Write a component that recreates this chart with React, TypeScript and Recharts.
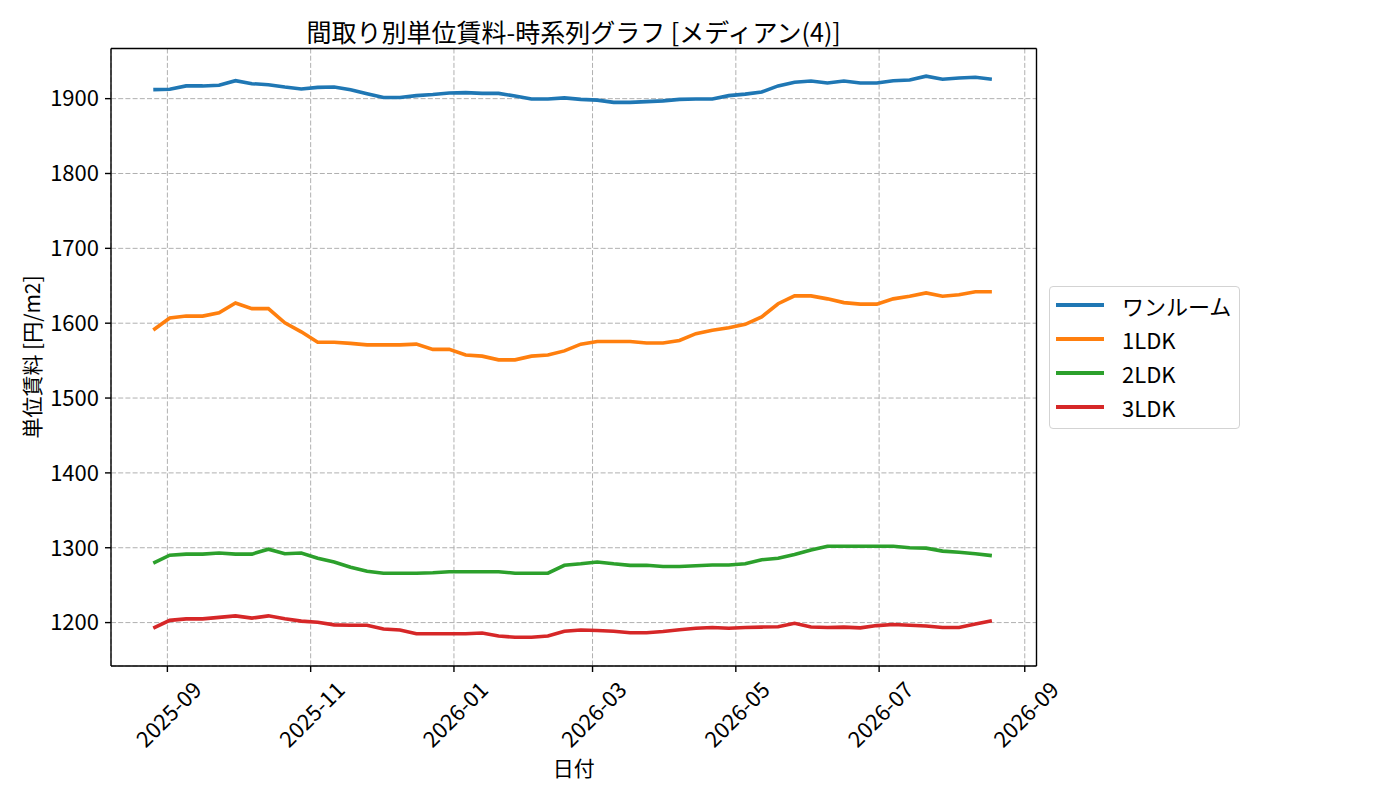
import { LineChart, Line, XAxis, YAxis, CartesianGrid, ReferenceLine } from "recharts";

const FONT = '"Noto Sans CJK JP", "Noto Sans", sans-serif';

const dates = [
  "2025-08-26", "2025-09-02", "2025-09-09", "2025-09-16", "2025-09-23", "2025-09-30",
  "2025-10-07", "2025-10-14", "2025-10-21", "2025-10-28", "2025-11-04", "2025-11-11",
  "2025-11-18", "2025-11-25", "2025-12-02", "2025-12-09", "2025-12-16", "2025-12-23",
  "2025-12-30", "2026-01-06", "2026-01-13", "2026-01-20", "2026-01-27", "2026-02-03",
  "2026-02-10", "2026-02-17", "2026-02-24", "2026-03-03", "2026-03-10", "2026-03-17",
  "2026-03-24", "2026-03-31", "2026-04-07", "2026-04-14", "2026-04-21", "2026-04-28",
  "2026-05-05", "2026-05-12", "2026-05-19", "2026-05-26", "2026-06-02", "2026-06-09",
  "2026-06-16", "2026-06-23", "2026-06-30", "2026-07-07", "2026-07-14", "2026-07-21",
  "2026-07-28", "2026-08-04", "2026-08-11", "2026-08-18",
];

const oneRoom = [
  1912, 1912.5, 1917, 1917, 1918, 1924, 1920, 1918.5, 1915.5, 1913,
  1915, 1915.5, 1912, 1906.5, 1901.5, 1901.5, 1904, 1905.5, 1907.5, 1908,
  1907, 1907, 1903.5, 1899.5, 1899.5, 1901, 1899, 1898, 1895, 1895,
  1896, 1897, 1899, 1899.5, 1899.5, 1904, 1906, 1909, 1917, 1922,
  1923.5, 1921, 1923.5, 1921, 1921, 1924, 1925, 1930, 1926, 1927.5,
  1928.5, 1926,
];

const ldk1 = [
  1591, 1607, 1609.5, 1609.5, 1614, 1627, 1619.5, 1619.5, 1600.5, 1588.5,
  1574.5, 1574.5, 1573, 1571, 1571, 1571, 1572, 1565, 1565, 1557.5,
  1556, 1551, 1551, 1556, 1557.5, 1563, 1572, 1575.5, 1575.5, 1575.5,
  1573.5, 1573.5, 1577, 1586, 1590.5, 1594, 1598.5, 1608.5, 1626, 1636.5,
  1636.5, 1632.5, 1627.5, 1625.5, 1625.5, 1632.5, 1636, 1640.5, 1636, 1638,
  1642, 1642,
];

const ldk2 = [
  1279.5, 1290, 1291.5, 1291.5, 1293, 1291.5, 1291.5, 1298, 1292, 1293,
  1286, 1281, 1274, 1268.5, 1266, 1266, 1266, 1266.5, 1268, 1268,
  1268, 1268, 1266, 1266, 1266, 1276.5, 1278.5, 1281, 1278.5, 1276.5,
  1276.5, 1275, 1275, 1276, 1277, 1277, 1278.5, 1284, 1286, 1291,
  1297, 1302, 1302, 1302, 1302, 1302, 1300, 1299.5, 1295.5, 1294,
  1292, 1289.5,
];

const ldk3 = [
  1192.5, 1203, 1205, 1205, 1207, 1209, 1206, 1209, 1205, 1202,
  1200.5, 1197, 1196.5, 1196.5, 1191.5, 1190, 1185, 1185, 1185, 1185,
  1186, 1182, 1180.5, 1180.5, 1182, 1188.5, 1190, 1189.5, 1188.5, 1186.5,
  1186.5, 1188, 1190.5, 1192.5, 1193.5, 1192.5, 1193.5, 1194, 1194.5, 1199,
  1194, 1193.5, 1194, 1193, 1196, 1197.5, 1196.5, 1195.5, 1193.5, 1193.5,
  1198, 1202.5,
];

const xTickDates = ["2025-09-01", "2025-11-01", "2026-01-01", "2026-03-01", "2026-05-01", "2026-07-01", "2026-09-01"];
const yTicks = [1200, 1300, 1400, 1500, 1600, 1700, 1800, 1900];
const X_MIN = "2025-08-08";
const X_MAX = "2026-09-06";
const Y_MIN = 1142;
const Y_MAX = 1967;

const series = [
  { key: "oneRoom", name: "ワンルーム", color: "#1f77b4" },
  { key: "ldk1", name: "1LDK", color: "#ff7f0e" },
  { key: "ldk2", name: "2LDK", color: "#2ca02c" },
  { key: "ldk3", name: "3LDK", color: "#d62728" },
];

const DAY = 86400000;
const toDay = (s: string) => Date.parse(s) / DAY;
const fmtMonth = (v: number) => new Date(Math.round(v) * DAY).toISOString().slice(0, 7);

const data = dates.map((d, i) => ({
  t: toDay(d),
  oneRoom: oneRoom[i],
  ldk1: ldk1[i],
  ldk2: ldk2[i],
  ldk3: ldk3[i],
}));

const xMin = toDay(X_MIN);
const xMax = toDay(X_MAX);

function XTick(props: any) {
  const { x, y, payload } = props;
  const cy = y + 39;
  return (
    <text
      x={x}
      y={cy}
      transform={`rotate(-45 ${x} ${cy})`}
      textAnchor="middle"
      dominantBaseline="central"
      fontSize={22}
      fontFamily={FONT}
      fill="#000"
    >
      {fmtMonth(payload.value)}
    </text>
  );
}

function LegendBox() {
  return (
    <div
      style={{
        position: "absolute",
        left: 1049,
        top: 286,
        boxSizing: "border-box",
        width: 191,
        height: 143,
        border: "1px solid #d3d3d3",
        borderRadius: 4,
        background: "rgba(255,255,255,0.8)",
        paddingTop: 1,
        fontFamily: FONT,
      }}
    >
      {series.map((s) => (
        <div key={s.key} style={{ height: 34, display: "flex", alignItems: "center" }}>
          <div style={{ marginLeft: 6, width: 48, height: 4, background: s.color }} />
          <span style={{ marginLeft: 18, fontSize: 22, color: "#000", lineHeight: "34px" }}>{s.name}</span>
        </div>
      ))}
    </div>
  );
}

export default function App() {
  return (
    <div style={{ position: "absolute", left: 0, top: 0, width: 1400, height: 800, background: "#fff" }}>
      <LineChart
        width={1400}
        height={800}
        data={data}
        margin={{ top: 48.5, right: 363.5, bottom: 0, left: 11 }}
        style={{ fontFamily: FONT }}
      >
        <CartesianGrid stroke="#b0b0b0" strokeDasharray="5 2.2" strokeWidth={1} />
        <XAxis
          dataKey="t"
          type="number"
          domain={[xMin, xMax]}
          ticks={xTickDates.map(toDay)}
          allowDataOverflow
          height={134}
          tick={<XTick />}
          tickSize={6}
          axisLine={{ stroke: "#000", strokeWidth: 1.4 }}
          tickLine={{ stroke: "#000", strokeWidth: 1.4 }}
        />
        <YAxis
          type="number"
          domain={[Y_MIN, Y_MAX]}
          ticks={yTicks}
          allowDataOverflow
          width={100}
          tickSize={6}
          tickMargin={6}
          tick={{ fontSize: 22, fill: "#000", fontFamily: FONT }}
          axisLine={{ stroke: "#000", strokeWidth: 1.4 }}
          tickLine={{ stroke: "#000", strokeWidth: 1.4 }}
        />
        <ReferenceLine y={Y_MAX} stroke="#000" strokeWidth={1.4} />
        <ReferenceLine x={xMax} stroke="#000" strokeWidth={1.4} />
        {series.map((s) => (
          <Line
            key={s.key}
            type="linear"
            dataKey={s.key}
            name={s.name}
            stroke={s.color}
            strokeWidth={3.6}
            dot={false}
            activeDot={false}
            isAnimationActive={false}
          />
        ))}
      </LineChart>
      <LegendBox />
      <svg
        width={1400}
        height={800}
        style={{ position: "absolute", left: 0, top: 0, pointerEvents: "none" }}
        fontFamily={FONT}
      >
        <text x={573.7} y={31} textAnchor="middle" dominantBaseline="central" fontSize={25} fill="#000">
          間取り別単位賃料-時系列グラフ [メディアン(4)]
        </text>
        <text x={573.7} y={767} textAnchor="middle" dominantBaseline="central" fontSize={21} fill="#000">
          日付
        </text>
        <text
          x={31}
          y={357}
          transform="rotate(-90 31 357)"
          textAnchor="middle"
          dominantBaseline="central"
          fontSize={21}
          fill="#000"
        >
          単位賃料 [円/m2]
        </text>
      </svg>
    </div>
  );
}
